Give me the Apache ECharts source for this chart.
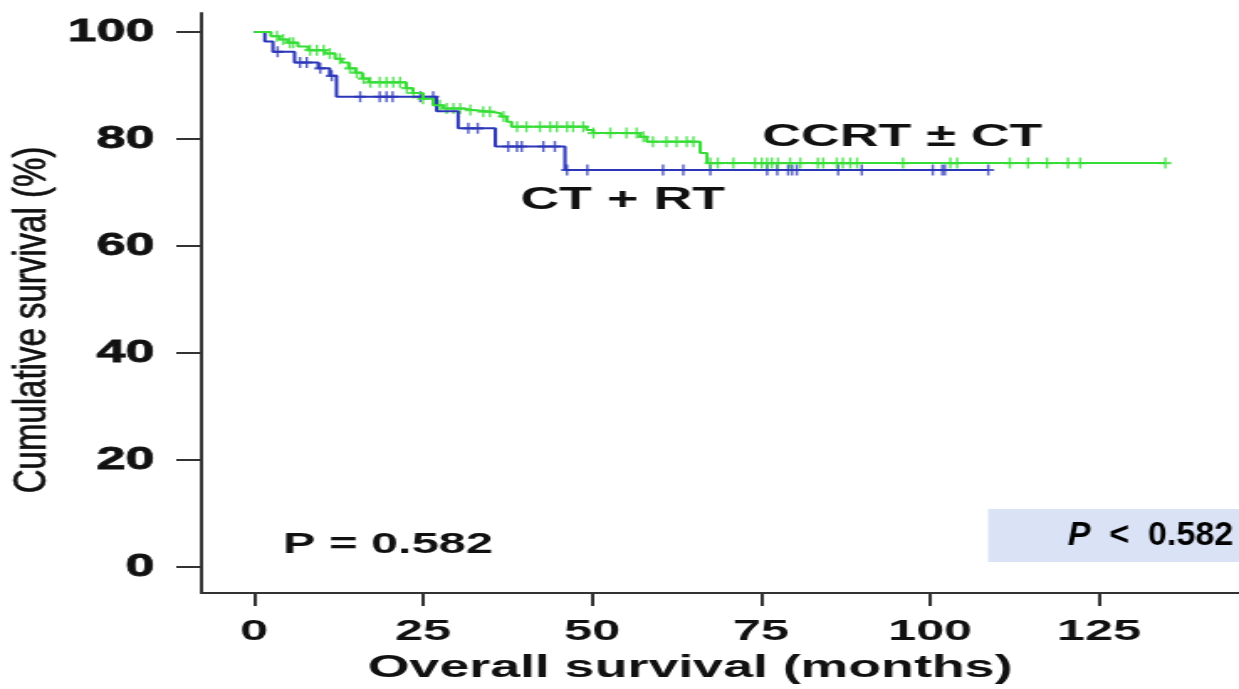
<!DOCTYPE html>
<html>
<head>
<meta charset="utf-8">
<script src="https://cdn.jsdelivr.net/npm/echarts@6/dist/echarts.min.js"></script>
<style>
html, body { margin: 0; padding: 0; background: #fff; overflow: hidden; }
/* the source figure is stretched sideways, so draw narrow and widen with css */
#chart { width: 738px; height: 689px; transform: scaleX(1.6789); transform-origin: 0 0; }
</style>
</head>
<body>
<div id="chart"></div>
<script>
const stretch = 1239 / 738
const font = '"Liberation Sans", Arial, sans-serif'

const xTicks = [0, 25, 50, 75, 100, 125]
const yTicks = [0, 20, 40, 60, 80, 100]

// Kaplan-Meier steps, [months, survival %]
const ctrtSteps = [[0, 100], [1.6, 98.2], [2.8, 96.3], [6.0, 94.3], [9.5, 93.2], [11.2, 91.8], [12.2, 87.9],
    [27.0, 85.2], [30.2, 82.0], [35.7, 78.6], [46.0, 74.2], [108.6, 74.2]]
const ccrtSteps = [[0, 100], [2.5, 99.2], [3.8, 98.6], [5.0, 98.0], [6.5, 97.3], [8.0, 96.6], [10.5, 96.0],
    [12.0, 95.0], [13.0, 94.3], [14.0, 93.2], [15.0, 92.4], [16.0, 91.3], [17.0, 90.6], [22.5, 89.5],
    [23.5, 88.6], [25.0, 87.5], [26.5, 86.3], [28.0, 85.7], [31.0, 85.4], [32.5, 85.1], [35.0, 84.8],
    [36.5, 84.2], [37.4, 83.2], [38.1, 82.3], [49.2, 81.7], [50.2, 81.1], [57.1, 80.4], [58.1, 79.5],
    [66.0, 77.4], [67.0, 75.5], [134.8, 75.5]]

// censored times (months)
const ctrtCensored = [3.5, 6.8, 7.8, 9.8, 11.5, 15.7, 18.6, 19.6, 20.5, 24.6, 26.5, 31.7, 33.1, 37.6, 38.9,
    39.6, 42.8, 44.5, 46.3, 49.3, 60.5, 63.5, 67.5, 75.9, 77.4, 79.0, 79.6, 80.3, 86.4, 89.9, 100.4, 101.8,
    102.2, 108.6]
const ccrtCensored = [3.4, 4.3, 5.3, 5.8, 8.3, 9.3, 10.3, 11.2, 12.7, 14.2, 15.2, 16.2, 17.2, 18.6, 19.6,
    20.6, 21.6, 22.6, 23.6, 25.0, 27.5, 28.5, 29.5, 30.5, 32.0, 33.9, 34.9, 36.9, 38.9, 40.3, 42.3, 43.8,
    44.8, 46.3, 47.2, 48.7, 50.2, 52.7, 55.1, 56.6, 57.6, 59.0, 61.0, 62.5, 64.0, 65.0, 67.5, 68.6, 70.9,
    74.1, 75.1, 75.9, 76.6, 77.5, 79.3, 80.8, 83.4, 84.2, 86.2, 87.1, 88.2, 89.2, 96.0, 103.0, 104.0,
    111.8, 114.5, 117.3, 120.4, 122.2, 134.8]

const blue = '#2b36b8'
const green = '#35dd35'
const plus = 'path://M4,0h2v4h4v2h-4v4h-2v-4h-4v-2h4z'

// survival value of a step curve at time t
const survivalAt = (steps, t) => {
    let s = steps[0][1]
    for (const [m, v] of steps) if (m <= t) s = v
    return s
}

const chart = echarts.init(document.getElementById('chart'))
chart.setOption({
    backgroundColor: '#fff',
    animation: false,
    grid: { left: 120, right: 0, top: 13, bottom: 96 },
    xAxis: {
        type: 'value', min: -7.77, max: 145.7,
        axisLine: { onZero: false, lineStyle: { color: '#333', width: 2 } },
        axisTick: { customValues: xTicks, length: 13, lineStyle: { color: '#333', width: 2 } },
        axisLabel: { customValues: xTicks, margin: 24, fontSize: 30, fontWeight: 'bold', fontFamily: font, color: '#111' },
        splitLine: { show: false },
        name: 'Overall survival (months)', nameLocation: 'middle', nameGap: 56,
        nameTextStyle: { fontSize: 32, fontWeight: 'bold', fontFamily: font, color: '#111', padding: [0, 36, 0, 0] }
    },
    yAxis: {
        type: 'value', min: -4.86, max: 103.55,
        axisLine: { onZero: false, lineStyle: { color: '#333', width: 2 } },
        axisTick: { customValues: yTicks, length: 15, lineStyle: { color: '#333', width: 2 } },
        axisLabel: { customValues: yTicks, margin: 28, fontSize: 31, fontWeight: 'bold', fontFamily: font, color: '#111',
            textBorderColor: '#111', textBorderWidth: 0.8 },
        splitLine: { show: false }
    },
    series: [
        { type: 'line', step: 'end', data: ctrtSteps, symbol: 'none', lineStyle: { color: blue, width: 2 } },
        { type: 'scatter', data: ctrtCensored.map(t => [t, survivalAt(ctrtSteps, t)]),
            symbol: plus, symbolSize: [7, 11], itemStyle: { color: blue } },
        { type: 'line', step: 'end', data: ccrtSteps, symbol: 'none', lineStyle: { color: green, width: 2 } },
        { type: 'scatter', data: ccrtCensored.map(t => [t, survivalAt(ccrtSteps, t)]),
            symbol: plus, symbolSize: [7, 11], itemStyle: { color: green } }
    ],
    graphic: [
        { type: 'text', x: 19, y: 320, rotation: Math.PI / 2, scaleY: 0.85,
            style: { text: 'Cumulative survival (%)', fontSize: 33, fontFamily: font, fill: '#111',
                stroke: '#111', lineWidth: 0.6,
                align: 'center', verticalAlign: 'middle', textAlign: 'center', textVerticalAlign: 'middle' } },
        { type: 'text', x: 454, y: 137,
            style: { text: 'CCRT ± CT', fontSize: 32, fontWeight: 'bold', fontFamily: font, fill: '#111',
                verticalAlign: 'middle', textVerticalAlign: 'middle' } },
        { type: 'text', x: 310, y: 200,
            style: { text: 'CT + RT', fontSize: 32, fontWeight: 'bold', fontFamily: font, fill: '#111',
                verticalAlign: 'middle', textVerticalAlign: 'middle' } },
        { type: 'text', x: 168.6, y: 545,
            style: { text: 'P = 0.582', fontSize: 29, fontWeight: 'bold', fontFamily: font, fill: '#111',
                verticalAlign: 'middle', textVerticalAlign: 'middle' } },
        { type: 'rect', shape: { x: 988 / stretch, y: 509, width: 251 / stretch, height: 53 }, style: { fill: '#dae3f6' } },
        { type: 'text', x: 1233 / stretch, y: 536, scaleX: 1 / stretch,
            style: { text: '{p|P}{t|  <  0.582}', fill: '#000', align: 'right', verticalAlign: 'middle',
                textAlign: 'right', textVerticalAlign: 'middle',
                rich: {
                    p: { fontSize: 34, fontWeight: 'bold', fontStyle: 'italic', fontFamily: font, fill: '#000' },
                    t: { fontSize: 34, fontWeight: 'bold', fontFamily: font, fill: '#000' }
                } } }
    ]
})
</script>
</body>
</html>
